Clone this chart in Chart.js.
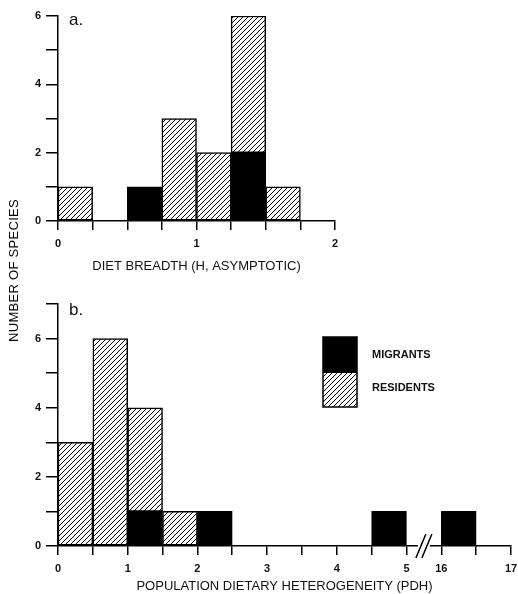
<!DOCTYPE html>
<html>
<head>
<meta charset="utf-8">
<script src="https://cdn.jsdelivr.net/npm/chart.js@4.4.1/dist/chart.umd.min.js"></script>
<style>
  html, body { margin: 0; padding: 0; background: #fff; }
  #wrap { position: relative; width: 518px; height: 594px; overflow: hidden; }
  #boxA { position: absolute; left: 0; top: 0; width: 518px; height: 290px; }
  #boxB { position: absolute; left: 0; top: 290px; width: 518px; height: 304px; }
  #ytitle {
    position: absolute; left: 6px; top: 190px; height: 160px; width: 16px; z-index: 5;
    writing-mode: vertical-rl; transform: rotate(180deg); text-align: center;
    font: normal 13px "Liberation Sans", Arial, sans-serif; color: #000;
    white-space: nowrap; letter-spacing: 0.3px;
  }
</style>
</head>
<body>
<div id="wrap">
  <div id="boxA"><canvas id="chartA"></canvas></div>
  <div id="boxB"><canvas id="chartB"></canvas></div>
  <div id="ytitle">NUMBER OF SPECIES</div>
</div>
<script>
// panel a: diet breadth bins (bin centre, width 0.25)
var binsA = [0.125, 0.625, 0.875, 1.125, 1.375, 1.625];
var migrantsA = [null, 1, null, null, 2, null];
var residentsA = [1, null, 3, 2, 4, 1];

// panel b: PDH bins (bin centre, width 0.5) - 16.25 sits after the axis break
var binsB = [0.25, 0.75, 1.25, 1.75, 2.25, 4.75, 16.25];
var migrantsB = [null, null, 1, null, 1, 1, 1];
var residentsB = [3, 6, 3, 1, null, null, null];

// everything from 16 on is drawn shifted left past the break
var breakShift = 10.5;
function mapB(x) { return x >= 16 ? x - breakShift : x; }

var FONT = '"Liberation Sans", Arial, sans-serif';

function hatch() {
  var c = document.createElement('canvas');
  c.width = 5; c.height = 5;
  var g = c.getContext('2d');
  g.fillStyle = '#fff';
  g.fillRect(0, 0, 5, 5);
  g.strokeStyle = '#000';
  g.lineWidth = 1;
  g.beginPath();
  g.moveTo(-1, 6); g.lineTo(6, -1);
  g.moveTo(-1, 1); g.lineTo(1, -1);
  g.moveTo(4, 6); g.lineTo(6, 4);
  g.stroke();
  return g.createPattern(c, 'repeat');
}

function toPoints(bins, vals, fx) {
  return bins.map(function (b, i) { return {x: fx ? fx(b) : b, y: vals[i]}; });
}

function barSet(label, pts, fill) {
  return {
    label: label,
    data: pts,
    backgroundColor: fill,
    borderColor: '#000',
    borderWidth: 1.5,
    borderSkipped: false,
    barPercentage: 1,
    categoryPercentage: 1
  };
}

function yScale(max, width) {
  return {
    stacked: true,
    min: 0, max: max,
    afterFit: function (s) { s.width = width; },
    ticks: {
      stepSize: 1, color: '#111', padding: 5,
      font: {family: FONT, size: 11, weight: 'bold'},
      callback: function (v) { return v % 2 === 0 ? String(v) : ''; }
    },
    grid: {drawOnChartArea: false, drawTicks: true, tickLength: 12, color: '#000', lineWidth: 1.5},
    border: {display: true, color: '#000', width: 1.5}
  };
}

function xScale(max, step, height, title, labelFn) {
  return {
    type: 'linear',
    stacked: true,
    offset: false,
    min: 0, max: max,
    afterFit: function (s) { s.height = height; s.paddingLeft = 0; s.paddingRight = 0; },
    ticks: {
      stepSize: step, autoSkip: false, maxRotation: 0, color: '#111', padding: 7,
      font: {family: FONT, size: 11, weight: 'bold'},
      callback: labelFn
    },
    grid: {drawOnChartArea: false, drawTicks: true, tickLength: 9, color: '#000', lineWidth: 1.5, offset: false},
    border: {display: true, color: '#000', width: 1.5},
    title: {display: true, text: title, color: '#111', font: {family: FONT, size: 13}, padding: {top: 6, bottom: 0}}
  };
}

var panelLabel = {
  id: 'panelLabel',
  afterDraw: function (chart, args, opts) {
    var g = chart.ctx;
    g.save();
    g.fillStyle = '#111';
    g.font = '17px ' + FONT;
    g.textBaseline = 'middle';
    g.fillText(opts.text, 69, 20);
    g.restore();
  }
};

var legendBox = {
  id: 'legendBox',
  afterDraw: function (chart) {
    var g = chart.ctx;
    g.save();
    g.fillStyle = '#000';
    g.fillRect(323, 47, 34, 36);
    g.fillStyle = chart.data.datasets[1].backgroundColor;
    g.fillRect(323, 83, 34, 34);
    g.strokeStyle = '#000';
    g.lineWidth = 1.5;
    g.strokeRect(323, 47, 34, 70);
    g.fillStyle = '#111';
    g.font = 'bold 11px "Liberation Sans Narrow", ' + FONT;
    g.textBaseline = 'middle';
    g.fillText(chart.data.datasets[0].label, 372, 65);
    g.fillText(chart.data.datasets[1].label, 372, 98);
    g.restore();
  }
};

var axisBreak = {
  id: 'axisBreak',
  afterDraw: function (chart) {
    var g = chart.ctx, xs = chart.scales.x, y0 = chart.chartArea.bottom;
    var xm = xs.getPixelForValue(5.25);
    g.save();
    g.fillStyle = '#fff';
    g.fillRect(xm - 6, y0 - 2, 12, 4);
    g.strokeStyle = '#000';
    g.lineWidth = 1.5;
    g.beginPath();
    g.moveTo(xm - 8, y0 + 12); g.lineTo(xm + 2, y0 - 12);
    g.moveTo(xm - 2, y0 + 12); g.lineTo(xm + 8, y0 - 12);
    g.stroke();
    g.restore();
  }
};

var hatchFill = hatch();

new Chart(document.getElementById('chartA'), {
  type: 'bar',
  data: {
    datasets: [
      barSet('MIGRANTS', toPoints(binsA, migrantsA), '#000'),
      barSet('RESIDENTS', toPoints(binsA, residentsA), hatchFill)
    ]
  },
  options: {
    responsive: true, maintainAspectRatio: false, animation: false,
    layout: {padding: {left: 0, top: 16, right: 183, bottom: 16}},
    plugins: {legend: {display: false}, tooltip: {enabled: false}, panelLabel: {text: 'a.'}},
    scales: {
      x: xScale(2, 0.25, 53, 'DIET BREADTH (H, ASYMPTOTIC)', function (v) {
        return Number.isInteger(v) ? String(v) : '';
      }),
      y: yScale(6, 58)
    }
  },
  plugins: [panelLabel]
});

new Chart(document.getElementById('chartB'), {
  type: 'bar',
  data: {
    datasets: [
      barSet('MIGRANTS', toPoints(binsB, migrantsB, mapB), '#000'),
      barSet('RESIDENTS', toPoints(binsB, residentsB, mapB), hatchFill)
    ]
  },
  options: {
    responsive: true, maintainAspectRatio: false, animation: false,
    layout: {padding: {left: 0, top: 14, right: 7, bottom: 0}},
    plugins: {legend: {display: false}, tooltip: {enabled: false}, panelLabel: {text: 'b.'}},
    scales: {
      x: xScale(6.5, 0.5, 48, 'POPULATION DIETARY HETEROGENEITY (PDH)', function (v) {
        if (v > 5) return Number.isInteger(v - 0.5) ? String(v + breakShift) : '';
        return Number.isInteger(v) ? String(v) : '';
      }),
      y: yScale(7, 58)
    }
  },
  plugins: [panelLabel, legendBox, axisBreak]
});
</script>
</body>
</html>
